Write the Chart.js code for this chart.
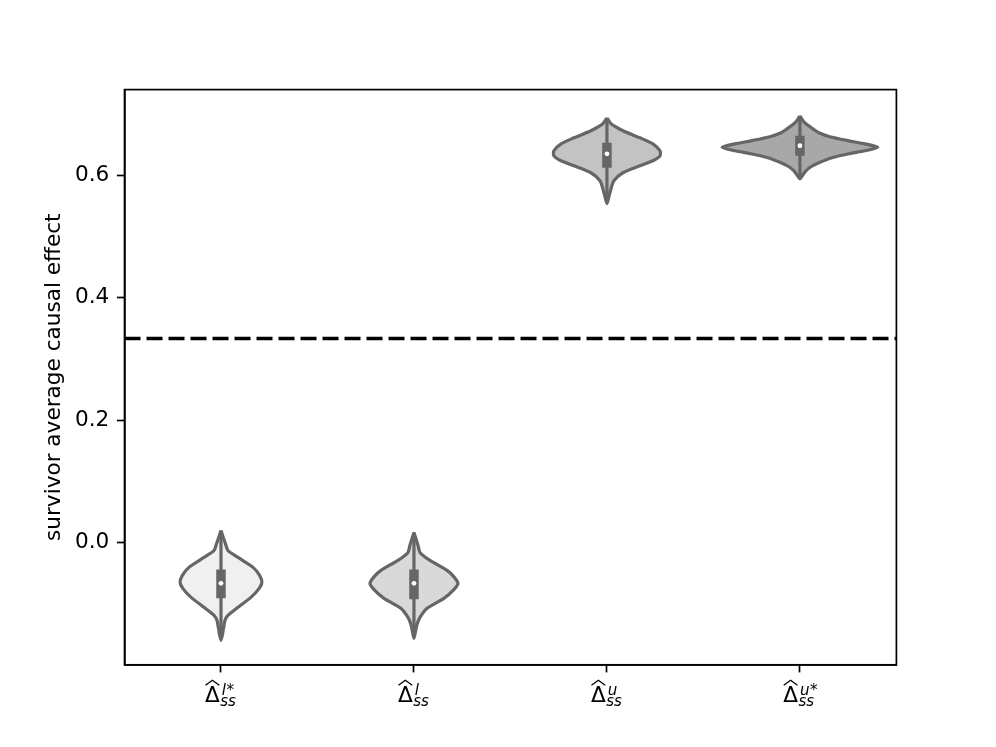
<!DOCTYPE html>
<html><head><meta charset="utf-8">
<script src="https://cdn.jsdelivr.net/npm/chart.js@4.4.1/dist/chart.umd.min.js"></script>
<style>html,body{margin:0;padding:0;background:#fff;}#wrap{width:996px;height:747px;}</style>
</head><body><div id="wrap"><canvas id="c" width="996" height="747"></canvas></div>
<script>
// categories: superscripts of the estimator Δ̂_ss
const categories = ['l*', 'l', 'u', 'u*'];
const categorySub = 'ss';
const yTicks = [0.0, 0.2, 0.4, 0.6];
const referenceValue = 1 / 3;
const yLabel = 'survivor average causal effect';

// violin outlines: effect levels and KDE half-widths (category units)
const violin1Levels = [0.0196, 0.0098, 0.0, -0.0131, -0.0245, -0.0408, -0.0539, -0.0653, -0.0751, -0.0898, -0.1061, -0.1192, -0.1273, -0.1404, -0.1502, -0.1600];
const violin1Widths = [0, 0.010, 0.021, 0.036, 0.088, 0.166, 0.200, 0.212, 0.198, 0.155, 0.088, 0.036, 0.021, 0.013, 0.008, 0];
const violin2Levels = [0.0163, 0.0065, -0.0049, -0.0163, -0.0294, -0.0457, -0.0555, -0.0669, -0.0784, -0.0914, -0.1078, -0.1224, -0.1339, -0.1453, -0.1567];
const violin2Widths = [0, 0.010, 0.021, 0.031, 0.083, 0.171, 0.205, 0.228, 0.203, 0.155, 0.067, 0.031, 0.016, 0.008, 0];
const violin3Levels = [0.6939, 0.6841, 0.6727, 0.6612, 0.6514, 0.6400, 0.6318, 0.6237, 0.6155, 0.6041, 0.5910, 0.5780, 0.5649, 0.5535];
const violin3Widths = [0, 0.021, 0.083, 0.171, 0.238, 0.275, 0.275, 0.238, 0.171, 0.083, 0.036, 0.021, 0.010, 0];
const violin4Levels = [0.6971, 0.6890, 0.6841, 0.6759, 0.6694, 0.6629, 0.6563, 0.6514, 0.6457, 0.6400, 0.6351, 0.6286, 0.6204, 0.6139, 0.6073, 0.6008, 0.5943];
const violin4Widths = [0, 0.016, 0.031, 0.067, 0.098, 0.155, 0.254, 0.337, 0.404, 0.337, 0.254, 0.166, 0.098, 0.057, 0.031, 0.016, 0];

// inner box statistics
const q3Values = [-0.0441, -0.0441, 0.6531, 0.6645];
const q1Values = [-0.0914, -0.0930, 0.6122, 0.6318];
const medians = [-0.0669, -0.0669, 0.6351, 0.6482];
const whiskerHigh = [0.016, 0.013, 0.690, 0.693];
const whiskerLow = [-0.156, -0.153, 0.557, 0.598];

const fillColors = ['#f0f0f0', '#d9d9d9', '#c3c3c3', '#a8a8a8'];
const edgeGray = '#666666';

const violinLevels = [violin1Levels, violin2Levels, violin3Levels, violin4Levels];
const violinWidths = [violin1Widths, violin2Widths, violin3Widths, violin4Widths];

function outline(i) {
  const lv = violinLevels[i], wd = violinWidths[i];
  const right = lv.map((y, k) => ({x: i + wd[k], y}));
  const left = [];
  for (let k = lv.length - 2; k >= 0; k--) left.push({x: i - wd[k], y: lv[k]});
  return right.concat(left);
}

const datasets = [];
categories.forEach((c, i) => {
  datasets.push({
    data: outline(i), showLine: true, fill: 'shape', tension: 0.22,
    backgroundColor: fillColors[i], borderColor: edgeGray, borderWidth: 3.2,
    pointRadius: 0, order: 5, borderJoinStyle: 'round'
  });
  datasets.push({
    data: [{x: i, y: whiskerHigh[i]}, {x: i, y: whiskerLow[i]}], showLine: true,
    borderColor: edgeGray, borderWidth: 3.2, pointRadius: 0, order: 4, borderCapStyle: 'butt'
  });
  datasets.push({
    data: [{x: i, y: q3Values[i]}, {x: i, y: q1Values[i]}], showLine: true,
    borderColor: edgeGray, borderWidth: 9.5, pointRadius: 0, order: 3, borderCapStyle: 'butt'
  });
});
datasets.push({
  data: medians.map((m, i) => ({x: i, y: m})), showLine: false,
  pointRadius: 2.4, pointBackgroundColor: '#ffffff', pointBorderWidth: 0, order: 2
});
datasets.push({
  data: [{x: -0.5, y: referenceValue}, {x: 3.5, y: referenceValue}], showLine: true,
  borderColor: '#000000', borderWidth: 3.6, borderDash: [16, 6], pointRadius: 0, order: 1
});

const FONT = 'DejaVu Sans';

const decor = {
  id: 'decor',
  afterDraw(chart) {
    const {ctx, chartArea: a, scales} = chart;
    ctx.save();
    ctx.strokeStyle = '#000'; ctx.lineWidth = 1.7;
    ctx.strokeRect(a.left, a.top, a.right - a.left, a.bottom - a.top);
    // math tick labels  Δ̂^{sup}_{ss}
    ctx.fillStyle = '#000';
    ctx.textBaseline = 'alphabetic';
    ctx.textAlign = 'left';
    const base = a.bottom + 37;
    categories.forEach((c, i) => {
      const cx = scales.x.getPixelForValue(i);
      ctx.font = `21.6px "${FONT}"`;
      const wD = ctx.measureText('Δ').width;
      const letter = c.replace('*', '');
      const star = c.includes('*');
      ctx.font = `italic 15.1px "${FONT}"`;
      const wL = ctx.measureText(letter).width;
      const wSub = ctx.measureText(categorySub).width;
      ctx.font = `15.1px "${FONT}"`;
      const wS = star ? ctx.measureText('*').width : 0;
      const total = wD + 1.5 + Math.max(wL + wS, wSub);
      const x0 = cx - total / 2;
      ctx.font = `21.6px "${FONT}"`;
      ctx.fillText('Δ', x0, base);
      // wide hat
      ctx.beginPath();
      ctx.lineWidth = 1.3;
      ctx.moveTo(x0 + 0.5, base - 16.5);
      ctx.lineTo(x0 + wD / 2, base - 21.5);
      ctx.lineTo(x0 + wD - 0.5, base - 16.5);
      ctx.stroke();
      ctx.font = `italic 15.1px "${FONT}"`;
      ctx.fillText(letter, x0 + wD + 2, base - 6.5);
      ctx.fillText(categorySub, x0 + wD + 0.5, base + 4.5);
      if (star) {
        ctx.font = `15.1px "${FONT}"`;
        ctx.fillText('*', x0 + wD + 2 + wL + 0.5, base - 6.5);
      }
    });
    ctx.restore();
  }
};

new Chart(document.getElementById('c'), {
  type: 'scatter',
  data: {datasets},
  plugins: [decor],
  options: {
    responsive: false, animation: false, events: [],
    layout: {padding: {left: 0, right: 99.6, top: 89.6, bottom: 0}},
    plugins: {legend: {display: false}, tooltip: {enabled: false}},
    scales: {
      x: {
        type: 'linear', min: -0.5, max: 3.5,
        afterBuildTicks: s => { s.ticks = categories.map((_, i) => ({value: i})); },
        afterFit: s => { s.height = 82.2; },
        ticks: {callback: () => '', autoSkip: false, padding: 0},
        grid: {drawOnChartArea: false, drawTicks: true, tickLength: 7.6, tickColor: '#000', tickWidth: 1.7},
        border: {display: true, color: '#000', width: 1.7}
      },
      y: {
        type: 'linear', min: -0.2, max: 0.74,
        afterBuildTicks: s => { s.ticks = yTicks.map(v => ({value: v})); },
        afterFit: s => { s.width = 124.5; },
        ticks: {callback: v => Number(v).toFixed(1), color: '#000', padding: 7.6, autoSkip: false,
                font: {family: FONT, size: 21.6}},
        title: {display: true, text: yLabel, color: '#000', font: {family: FONT, size: 21.6},
                padding: {top: 41.7, bottom: 0}},
        grid: {drawOnChartArea: false, drawTicks: true, tickLength: 7.6, tickColor: '#000', tickWidth: 1.7},
        border: {display: true, color: '#000', width: 1.7}
      }
    }
  }
});
</script></body></html>
